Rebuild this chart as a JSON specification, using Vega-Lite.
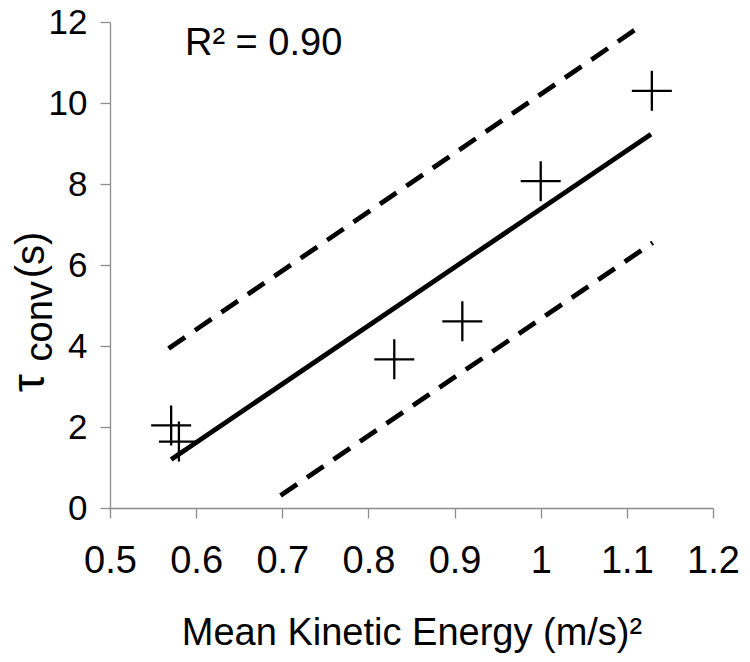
{
  "$schema": "https://vega.github.io/schema/vega-lite/v6.json",
  "width": 603,
  "height": 486,
  "autosize": {"type": "none"},
  "padding": {"left": 110, "top": 22, "right": 37, "bottom": 154},
  "background": "white",
  "config": {
    "view": {"stroke": null},
    "font": "Liberation Sans",
    "axis": {
      "grid": false,
      "domainColor": "#8c8c8c",
      "domainWidth": 1.3,
      "tickColor": "#8c8c8c",
      "tickWidth": 1.3,
      "tickSize": 10,
      "labelColor": "black",
      "titleColor": "black",
      "labelFont": "Liberation Sans",
      "titleFont": "Liberation Sans",
      "titleFontWeight": "normal",
      "labelFlush": false,
      "labelOverlap": false
    }
  },
  "datasets": {
    "points": [
      {"energy": 0.571, "tau": 2.04},
      {"energy": 0.580, "tau": 1.64},
      {"energy": 0.830, "tau": 3.67},
      {"energy": 0.909, "tau": 4.61},
      {"energy": 1.000, "tau": 8.07},
      {"energy": 1.129, "tau": 10.30}
    ],
    "fit": [
      {"energy": 0.571, "tau": 1.20},
      {"energy": 1.128, "tau": 9.23}
    ],
    "bounds": [
      {"bound": "upper", "energy": 0.568, "tau": 3.94},
      {"bound": "upper", "energy": 1.118, "tau": 11.93},
      {"bound": "lower", "energy": 0.698, "tau": 0.31},
      {"bound": "lower", "energy": 1.130, "tau": 6.55}
    ],
    "annot": [
      {"energy": 0.587, "tau": 11.18, "label": "R² = 0.90"}
    ],
    "ytitle": [
      {"part": "tau", "label": "τ", "energy": 0.4237, "tau": 2.86},
      {"part": "sub", "label": "conv", "energy": 0.433, "tau": 3.62},
      {"part": "unit", "label": "(s)", "energy": 0.4237, "tau": 5.67}
    ]
  },
  "layer": [
    {
      "data": {"name": "bounds"},
      "mark": {"type": "line", "color": "black", "strokeWidth": 4.8, "strokeDash": [20, 12], "strokeCap": "butt"},
      "encoding": {
        "x": {
          "field": "energy", "type": "quantitative",
          "scale": {"domain": [0.5, 1.2], "nice": false, "zero": false},
          "axis": {
            "values": [0.5, 0.6, 0.7, 0.8, 0.9, 1, 1.1, 1.2],
            "format": "~g",
            "labelFontSize": 38,
            "labelPadding": 24,
            "title": "Mean Kinetic Energy (m/s)²",
            "titleFontSize": 38,
            "titlePadding": 34
          }
        },
        "y": {
          "field": "tau", "type": "quantitative",
          "scale": {"domain": [0, 12], "nice": false},
          "axis": {
            "values": [0, 2, 4, 6, 8, 10, 12],
            "labelFontSize": 35,
            "labelPadding": 13,
            "title": null
          }
        },
        "detail": {"field": "bound"}
      }
    },
    {
      "data": {"name": "fit"},
      "mark": {"type": "line", "color": "black", "strokeWidth": 4.8, "strokeCap": "butt"},
      "encoding": {
        "x": {"field": "energy", "type": "quantitative"},
        "y": {"field": "tau", "type": "quantitative"}
      }
    },
    {
      "data": {"name": "points"},
      "mark": {"type": "point", "shape": "M-1,0L1,0M0,-1L0,1", "size": 1600, "filled": false, "color": "black", "strokeWidth": 2.3, "opacity": 1},
      "encoding": {
        "x": {"field": "energy", "type": "quantitative"},
        "y": {"field": "tau", "type": "quantitative"}
      }
    },
    {
      "data": {"name": "annot"},
      "mark": {"type": "text", "fontSize": 38, "align": "left", "baseline": "alphabetic", "color": "black", "font": "Liberation Sans"},
      "encoding": {
        "x": {"field": "energy", "type": "quantitative"},
        "y": {"field": "tau", "type": "quantitative"},
        "text": {"field": "label"}
      }
    },
    {
      "data": {"name": "ytitle"},
      "transform": [{"filter": "datum.part === 'tau'"}],
      "mark": {"type": "text", "angle": 270, "fontSize": 46, "align": "left", "baseline": "alphabetic", "color": "black", "font": "Liberation Sans"},
      "encoding": {
        "x": {"field": "energy", "type": "quantitative"},
        "y": {"field": "tau", "type": "quantitative"},
        "text": {"field": "label"}
      }
    },
    {
      "data": {"name": "ytitle"},
      "transform": [{"filter": "datum.part === 'sub'"}],
      "mark": {"type": "text", "angle": 270, "fontSize": 38, "align": "left", "baseline": "alphabetic", "color": "black", "font": "Liberation Sans"},
      "encoding": {
        "x": {"field": "energy", "type": "quantitative"},
        "y": {"field": "tau", "type": "quantitative"},
        "text": {"field": "label"}
      }
    },
    {
      "data": {"name": "ytitle"},
      "transform": [{"filter": "datum.part === 'unit'"}],
      "mark": {"type": "text", "angle": 270, "fontSize": 40, "align": "left", "baseline": "alphabetic", "color": "black", "font": "Liberation Sans"},
      "encoding": {
        "x": {"field": "energy", "type": "quantitative"},
        "y": {"field": "tau", "type": "quantitative"},
        "text": {"field": "label"}
      }
    }
  ]
}
